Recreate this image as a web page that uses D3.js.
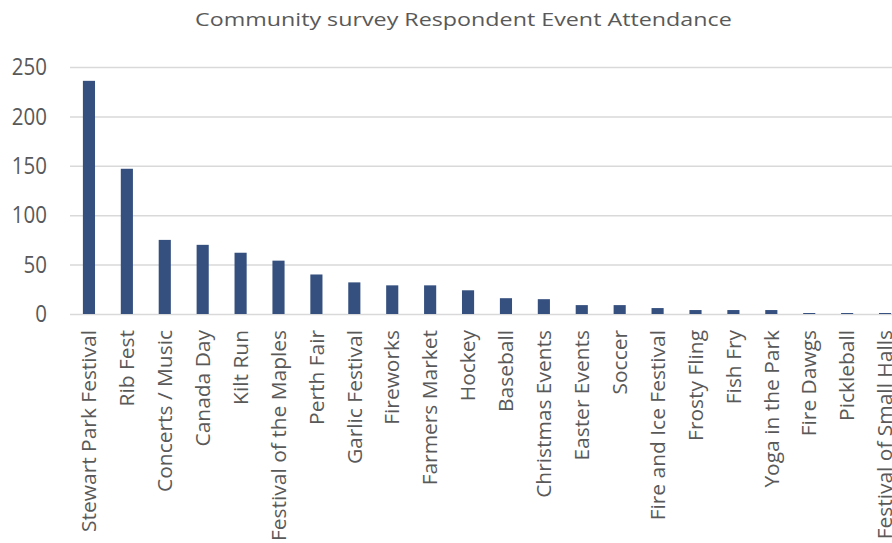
<!DOCTYPE html>
<html>
<head>
<meta charset="utf-8">
<script src="https://cdn.jsdelivr.net/npm/d3@7"></script>
<style>
  body { margin: 0; background: #fff; }
  svg { display: block; font-family: 'Open Sans', sans-serif; }
  .grid line { stroke: #d9d9d9; stroke-width: 1.5; }
  .grid path { display: none; }
  .axis-text { fill: #595959; }
</style>
</head>
<body>
<div id="chart"></div>
<script>
const categories = [
  'Stewart Park Festival', 'Rib Fest', 'Concerts / Music', 'Canada Day', 'Kilt Run',
  'Festival of the Maples', 'Perth Fair', 'Garlic Festival', 'Fireworks', 'Farmers Market',
  'Hockey', 'Baseball', 'Christmas Events', 'Easter Events', 'Soccer',
  'Fire and Ice Festival', 'Frosty Fling', 'Fish Fry', 'Yoga in the Park', 'Fire Dawgs',
  'Pickleball', 'Festival of Small Halls'
]
const attendance = [236, 147, 75, 70, 62, 54, 40, 32, 29, 29, 24, 16, 15, 9, 9, 6, 4, 4, 4, 1, 1, 1]
const yTicks = [0, 50, 100, 150, 200, 250]

const width = 892
const height = 543
// plot runs past the right edge, like the original crop
const margin = { top: 67, left: 70, bottom: 229 }
const plotRight = 904
const innerHeight = height - margin.top - margin.bottom

const svg = d3.select('#chart')
  .append('svg')
  .attr('width', width)
  .attr('height', height)

// Title - stretched a bit to match the original's wide rendering
const title = svg.append('text')
  .attr('font-size', 19)
  .attr('fill', '#595959')
  .text('Community survey Respondent Event Attendance')
const titleK = 537 / title.node().getComputedTextLength()
title.attr('transform', `translate(195, 26) scale(${titleK}, 1)`)

const xScale = d3.scaleBand()
  .domain(categories)
  .range([margin.left, plotRight])
  .paddingInner(0.68)
  .paddingOuter(0.34)

const yScale = d3.scaleLinear()
  .domain([0, 250])
  .range([margin.top + innerHeight, margin.top])

// Gridlines
svg.append('g')
  .attr('class', 'grid')
  .attr('transform', `translate(${margin.left},0)`)
  .call(d3.axisLeft(yScale).tickValues(yTicks).tickSize(-(plotRight - margin.left)).tickFormat(''))

// Y labels
svg.append('g')
  .selectAll('text')
  .data(yTicks)
  .join('text')
  .attr('class', 'axis-text')
  .attr('transform', d => `translate(47, ${yScale(d)}) scale(1, 1.12)`)
  .attr('dy', '0.36em')
  .attr('text-anchor', 'end')
  .attr('font-size', 20.5)
  .text(d => d)

// Bars
svg.append('g')
  .selectAll('rect')
  .data(attendance)
  .join('rect')
  .attr('x', (d, i) => xScale(categories[i]))
  .attr('y', d => yScale(d))
  .attr('width', xScale.bandwidth())
  .attr('height', d => yScale(0) - yScale(d))
  .attr('fill', '#35507f')

// X labels, rotated; stretch so the first label is as long as in the original
const xLabels = svg.append('g')
  .selectAll('text')
  .data(categories)
  .join('text')
  .attr('class', 'axis-text')
  .attr('dy', '0.36em')
  .attr('text-anchor', 'end')
  .attr('font-size', 20)
  .text(d => d)

const labelK = 202 / xLabels.nodes()[0].getComputedTextLength()
xLabels.attr('transform', d => `translate(${xScale(d) + xScale.bandwidth() / 2}, 330) rotate(-90) scale(${labelK}, 1)`)
</script>
</body>
</html>
